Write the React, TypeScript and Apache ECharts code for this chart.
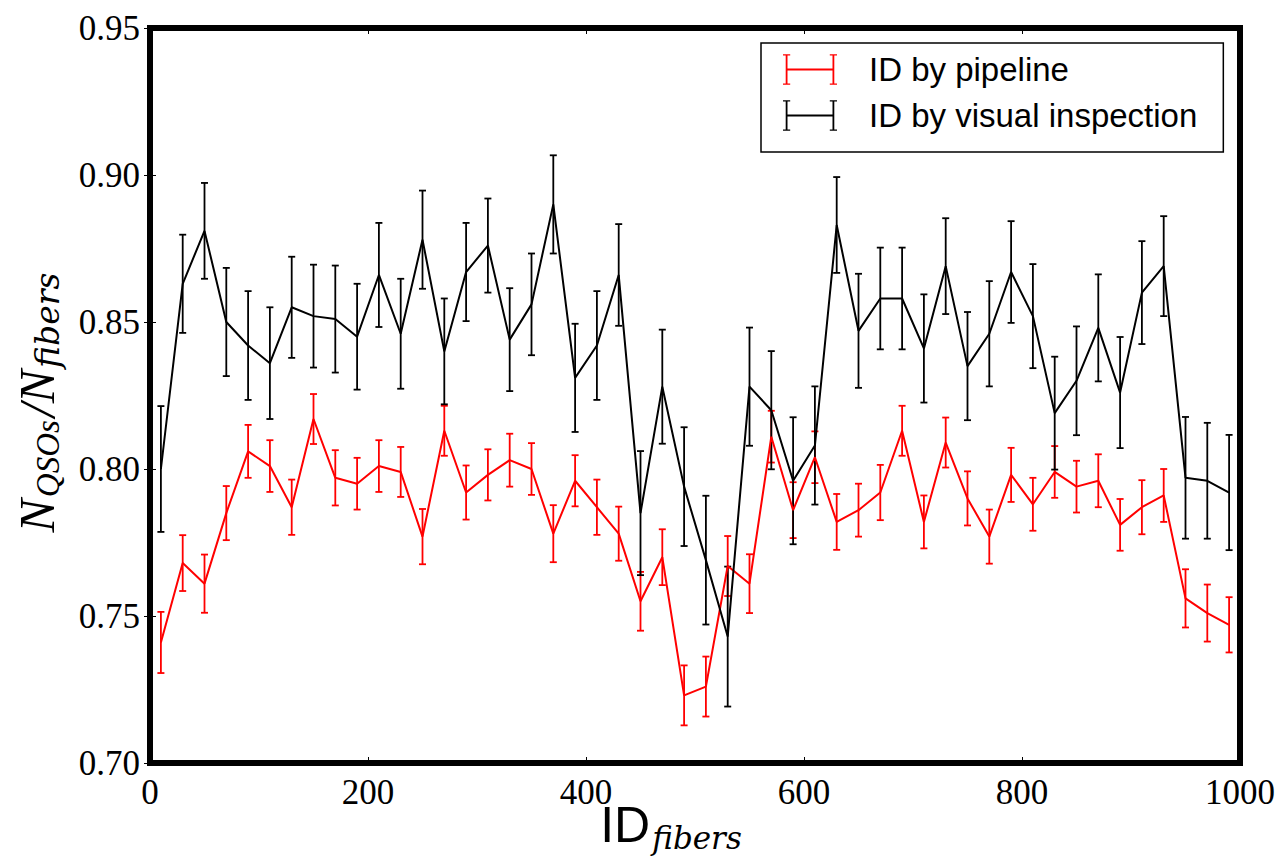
import React, { useEffect, useRef } from "react";
import * as echarts from "echarts";

const X_VALUES = [10, 30, 50, 70, 90, 110, 130, 150, 170, 190, 210, 230, 250, 270, 290, 310, 330, 350, 370, 390, 410, 430, 450, 470, 490, 510, 530, 550, 570, 590, 610, 630, 650, 670, 690, 710, 730, 750, 770, 790, 810, 830, 850, 870, 890, 910, 930, 950, 970, 990];

const PIPELINE = [0.741, 0.768, 0.761, 0.785, 0.806, 0.801, 0.787, 0.817, 0.797, 0.795, 0.801, 0.799, 0.777, 0.813, 0.792, 0.798, 0.803, 0.800, 0.778, 0.796, 0.787, 0.778, 0.755, 0.770, 0.723, 0.726, 0.767, 0.761, 0.811, 0.786, 0.804, 0.782, 0.786, 0.792, 0.813, 0.782, 0.809, 0.790, 0.777, 0.798, 0.788, 0.799, 0.794, 0.796, 0.781, 0.787, 0.791, 0.756, 0.751, 0.747];
const PIPELINE_ERR = [0.0104, 0.0095, 0.0099, 0.0092, 0.009, 0.0088, 0.0094, 0.0085, 0.0094, 0.0088, 0.0088, 0.0085, 0.0094, 0.0085, 0.0092, 0.0087, 0.009, 0.0088, 0.0097, 0.0087, 0.0094, 0.0092, 0.01, 0.0095, 0.0102, 0.0102, 0.0102, 0.01, 0.0088, 0.0095, 0.0088, 0.0095, 0.009, 0.0094, 0.0085, 0.009, 0.0085, 0.0092, 0.0092, 0.0092, 0.009, 0.0088, 0.0088, 0.009, 0.0088, 0.0092, 0.009, 0.0099, 0.0097, 0.0094];

const VISUAL = [0.800, 0.863, 0.881, 0.850, 0.842, 0.836, 0.855, 0.852, 0.851, 0.845, 0.866, 0.846, 0.878, 0.840, 0.867, 0.876, 0.844, 0.856, 0.890, 0.831, 0.842, 0.866, 0.785, 0.828, 0.794, 0.769, 0.743, 0.828, 0.820, 0.796, 0.808, 0.883, 0.847, 0.858, 0.858, 0.841, 0.869, 0.835, 0.846, 0.867, 0.852, 0.819, 0.830, 0.848, 0.826, 0.860, 0.869, 0.797, 0.796, 0.792];
const VISUAL_ERR = [0.0214, 0.0167, 0.0163, 0.0184, 0.0185, 0.019, 0.0172, 0.0175, 0.0182, 0.018, 0.0177, 0.0187, 0.0167, 0.018, 0.0167, 0.016, 0.0175, 0.0173, 0.0167, 0.0184, 0.0185, 0.0173, 0.0211, 0.0194, 0.0202, 0.0219, 0.0238, 0.0201, 0.0201, 0.0216, 0.0201, 0.0163, 0.0194, 0.0173, 0.0173, 0.0184, 0.0163, 0.0184, 0.0179, 0.0173, 0.0177, 0.0192, 0.0185, 0.0182, 0.0189, 0.0175, 0.017, 0.0207, 0.0197, 0.0196];

const SERIES_NAMES = ["ID by pipeline", "ID by visual inspection"];
const COLORS = ["#ff0000", "#000000"];

const ERR_ICON =
  "path://M0,0h2v34h-2z M2,16h50v2h-50z M52,0h2v34h-2z M-3,0h8v1.5h-8z M-3,32.5h8v1.5h-8z M49,0h8v1.5h-8z M49,32.5h8v1.5h-8z";

function errorBarSeries(name: string, values: number[], errs: number[], color: string) {
  const data = X_VALUES.map((x, i) => [x, values[i] - errs[i], values[i] + errs[i]]);
  return {
    name,
    type: "custom",
    data,
    encode: { x: 0, y: [1, 2] },
    renderItem: (params: any, api: any) => {
      const x = api.value(0);
      const lo = api.coord([x, api.value(1)]);
      const hi = api.coord([x, api.value(2)]);
      const cap = 3.5;
      const style = { stroke: color, lineWidth: 1.8 };
      return {
        type: "group",
        children: [
          { type: "line", shape: { x1: lo[0], y1: lo[1], x2: hi[0], y2: hi[1] }, style },
          { type: "line", shape: { x1: hi[0] - cap, y1: hi[1], x2: hi[0] + cap, y2: hi[1] }, style },
          { type: "line", shape: { x1: lo[0] - cap, y1: lo[1], x2: lo[0] + cap, y2: lo[1] }, style },
        ],
      };
    },
    silent: true,
    z: 3,
  };
}

function lineSeries(name: string, values: number[], color: string) {
  return {
    name,
    type: "line",
    data: X_VALUES.map((x, i) => [x, values[i]]),
    symbol: "none",
    lineStyle: { color, width: 2 },
    itemStyle: { color },
    z: 4,
  };
}

export default function App() {
  const ref = useRef<HTMLDivElement>(null);
  useEffect(() => {
    document.body.style.margin = "0";
    const chart = echarts.init(ref.current!, null, { renderer: "svg" });
    const serif = "Liberation Serif";
    const tickStyle = { show: true, inside: true, length: 6, lineStyle: { color: "#000", width: 1 } };
    chart.setOption({
      animation: false,
      backgroundColor: "#fff",
      grid: {
        left: 150,
        right: 39,
        top: 28,
        bottom: 93,
        outerBoundsMode: "none",
        containLabel: false,
        show: true,
        borderColor: "#000",
        borderWidth: 6,
        backgroundColor: "transparent",
      },
      legend: {
        orient: "vertical",
        left: 761,
        top: 43,
        padding: [10, 26, 20, 22],
        itemGap: 13,
        itemWidth: 54,
        itemHeight: 34,
        borderColor: "#000",
        borderWidth: 1.5,
        backgroundColor: "#fff",
        data: SERIES_NAMES.map((n, i) => ({ name: n, icon: ERR_ICON, itemStyle: { color: COLORS[i] } })),
        textStyle: { fontFamily: "Liberation Sans", fontSize: 33, color: "#000", padding: [0, 0, 0, 27] },
      },
      xAxis: [
        {
          type: "value",
          min: 0,
          max: 1000,
          interval: 200,
          axisLine: { show: false },
          axisTick: tickStyle,
          splitLine: { show: false },
          axisLabel: {
            fontFamily: serif,
            fontSize: 35,
            color: "#000",
            margin: 12,
            formatter: (v: number) => String(v),
          },
          name: "{a|ID}{b|fibers}",
          nameLocation: "middle",
          nameGap: 34,
          nameMoveOverlap: false,
          nameTextStyle: {
            padding: [0, 48, 0, 0],
            rich: {
              a: { fontFamily: "Liberation Sans", fontSize: 50, lineHeight: 56, color: "#000" },
              b: {
                fontFamily: "DejaVu Serif",
                fontStyle: "italic",
                fontSize: 31,
                lineHeight: 30,
                verticalAlign: "bottom",
                color: "#000",
                padding: [0, 0, 0, 2],
              },
            },
          },
        },
        {
          type: "value",
          position: "top",
          min: 0,
          max: 1000,
          interval: 200,
          axisLine: { show: false },
          axisTick: tickStyle,
          axisLabel: { show: false },
          splitLine: { show: false },
        },
      ],
      yAxis: [
        {
          type: "value",
          min: 0.7,
          max: 0.95,
          interval: 0.05,
          axisLine: { show: false },
          axisTick: tickStyle,
          splitLine: { show: false },
          axisLabel: {
            fontFamily: serif,
            fontSize: 35,
            color: "#000",
            margin: 10,
            formatter: (v: number) => v.toFixed(2),
          },
          name: "{n|N}{s|QSOs}{m|/N}{f|fibers}",
          nameLocation: "middle",
          nameRotate: 90,
          nameGap: 86,
          nameMoveOverlap: false,
          nameTextStyle: {
            padding: [0, 14, 0, 0],
            rich: {
              n: { fontFamily: serif, fontStyle: "italic", fontSize: 50, lineHeight: 54, color: "#000" },
              m: { fontFamily: serif, fontStyle: "italic", fontSize: 50, lineHeight: 54, color: "#000", padding: [0, 0, 0, 2] },
              s: {
                fontFamily: serif,
                fontStyle: "italic",
                fontSize: 33,
                lineHeight: 32,
                verticalAlign: "bottom",
                color: "#000",
                padding: [0, 1, 0, 2],
              },
              f: {
                fontFamily: "DejaVu Serif",
                fontStyle: "italic",
                fontSize: 33,
                lineHeight: 32,
                verticalAlign: "bottom",
                color: "#000",
                padding: [0, 0, 0, 2],
              },
            },
          },
        },
        {
          type: "value",
          position: "right",
          min: 0.7,
          max: 0.95,
          interval: 0.05,
          axisLine: { show: false },
          axisTick: tickStyle,
          axisLabel: { show: false },
          splitLine: { show: false },
        },
      ],
      series: [
        errorBarSeries(SERIES_NAMES[0], PIPELINE, PIPELINE_ERR, COLORS[0]),
        lineSeries(SERIES_NAMES[0], PIPELINE, COLORS[0]),
        errorBarSeries(SERIES_NAMES[1], VISUAL, VISUAL_ERR, COLORS[1]),
        lineSeries(SERIES_NAMES[1], VISUAL, COLORS[1]),
      ],
    });
    return () => chart.dispose();
  }, []);
  return <div ref={ref} style={{ position: "fixed", left: 0, top: 0, width: 1279, height: 856 }} />;
}
